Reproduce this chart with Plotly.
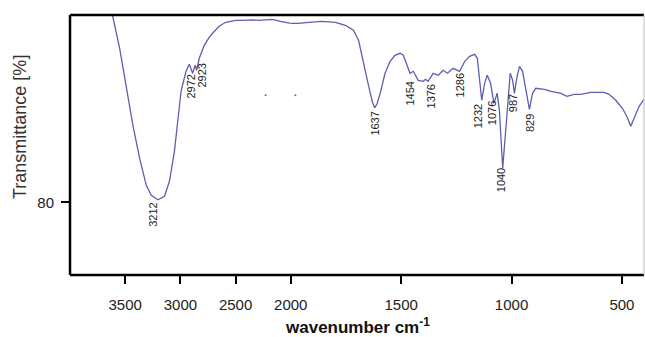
import plotly.graph_objects as go

# FTIR spectrum (wavenumber cm-1, transmittance %)
wavenumber = [3700, 3615, 3550, 3490, 3430, 3369, 3309, 3264, 3204, 3144, 3099, 3054, 3024,
              2994, 2949, 2919, 2889, 2865, 2853, 2829, 2784, 2739, 2700, 2649, 2589, 2500,
              2439, 2350, 2288, 2168, 2093, 2018, 2000, 1964, 1919, 1859, 1798, 1753, 1716,
              1693, 1678, 1663, 1648, 1630, 1620, 1608, 1595, 1573, 1550, 1528, 1505, 1490,
              1476, 1460, 1445, 1423, 1400, 1390, 1378, 1355, 1332, 1310, 1290, 1265, 1235,
              1212, 1190, 1167, 1155, 1146, 1135, 1122, 1110, 1095, 1080, 1065, 1055, 1040,
              1025, 1014, 1006, 995, 987, 975, 964, 950, 939, 919, 905, 890, 852, 821, 776,
              749, 716, 686, 641, 581, 558, 528, 498, 478, 460, 442, 422, 400]
transmittance = [102.5, 98.7, 95.4, 91.4, 87.7, 84.4, 81.7, 80.7, 80.25, 80.6, 82.1, 85.1, 88.1,
                 91.1, 93.1, 93.8, 92.9, 93.7, 93.2, 94.4, 95.7, 96.5, 97.0, 97.6, 98.0, 98.2,
                 98.2, 98.25, 98.2, 98.3, 98.1, 97.9, 97.9, 97.9, 98.0, 98.1, 98.0, 97.7, 97.2,
                 96.2, 94.7, 93.1, 91.7, 90.0, 89.45, 89.9, 90.9, 92.9, 94.1, 94.7, 94.9, 94.7,
                 93.9, 92.9, 93.1, 92.2, 92.1, 92.3, 92.1, 92.9, 92.7, 93.2, 92.9, 93.4, 93.1,
                 94.1, 94.6, 94.8, 94.4, 92.6, 90.2, 91.9, 92.7, 91.9, 89.9, 90.9, 89.2, 83.4,
                 87.6, 91.6, 92.9, 92.2, 90.9, 92.6, 93.6, 93.1, 91.6, 89.3, 90.9, 91.4, 91.3,
                 91.1, 90.9, 90.6, 90.8, 90.8, 91.0, 91.0, 90.8, 90.2, 89.4, 88.6, 87.6, 88.6,
                 89.6, 90.3]

# stray dots in the picture
dot_wn = [2228, 1979]
dot_t = [90.7, 90.7]

# peak labels and where they sit in the picture
peak_labels = ["3212", "2972", "2923", "1637", "1454", "1376", "1286", "1232", "1076", "1040", "987", "829"]
peak_label_wn = [3243, 2901, 2802, 1617, 1459, 1364, 1233, 1152, 1089, 1048, 994, 913]
peak_label_t = [80.0, 92.9, 94.0, 89.2, 92.2, 91.9, 93.0, 89.9, 90.2, 83.5, 90.9, 88.9]

x_ticks_high = [3500, 3000, 2500]
x_ticks_low = [2000, 1500, 1000, 500]
y_ticks = [80]

SPLIT = 2000
LINE = "#5c5fae"
FONT = "Arial, Liberation Sans, sans-serif"

hi = [(w, t) for w, t in zip(wavenumber, transmittance) if w >= SPLIT]
lo = [(w, t) for w, t in zip(wavenumber, transmittance) if w <= SPLIT]

fig = go.Figure()
fig.add_trace(go.Scatter(x=[p[0] for p in hi], y=[p[1] for p in hi], mode="lines",
                         line=dict(color=LINE, width=1.3), xaxis="x", yaxis="y",
                         showlegend=False))
fig.add_trace(go.Scatter(x=[p[0] for p in lo], y=[p[1] for p in lo], mode="lines",
                         line=dict(color=LINE, width=1.3), xaxis="x2", yaxis="y",
                         showlegend=False))
fig.add_trace(go.Scatter(x=[w for w in dot_wn if w >= SPLIT], y=[t for w, t in zip(dot_wn, dot_t) if w >= SPLIT],
                         mode="markers", marker=dict(color=LINE, size=2), xaxis="x", yaxis="y",
                         showlegend=False))
fig.add_trace(go.Scatter(x=[w for w in dot_wn if w < SPLIT], y=[t for w, t in zip(dot_wn, dot_t) if w < SPLIT],
                         mode="markers", marker=dict(color=LINE, size=2), xaxis="x2", yaxis="y",
                         showlegend=False))

dom_split = (4000 - SPLIT) / ((4000 - SPLIT) + 2 * (SPLIT - 400))

tick_common = dict(ticks="outside", ticklen=8, tickwidth=2, tickcolor="black",
                   showgrid=False, zeroline=False, showline=False,
                   tickfont=dict(family=FONT, size=15, color="#222"))

fig.update_layout(
    width=645, height=337,
    margin=dict(l=70, r=1, t=15, b=62),
    paper_bgcolor="white", plot_bgcolor="white",
    xaxis=dict(domain=[0, dom_split], range=[4000, SPLIT], tickvals=x_ticks_high,
               anchor="y", ticklabelstandoff=8, **tick_common),
    xaxis2=dict(domain=[dom_split, 1], range=[SPLIT, 400], tickvals=x_ticks_low,
                anchor="y", ticklabelstandoff=8, **tick_common),
    yaxis=dict(range=[72.73, 98.73], tickvals=y_ticks, ticklabelstandoff=4, **tick_common),
)

for lab, w, t in zip(peak_labels, peak_label_wn, peak_label_t):
    xref = "x" if w >= SPLIT else "x2"
    fig.add_annotation(x=w, y=t, xref=xref, yref="y", text=lab, textangle=-90,
                       showarrow=False, xanchor="center", yanchor="top",
                       font=dict(family=FONT, size=11, color="#222"),
                       borderpad=0)

fig.add_annotation(x=(357 - 70) / 574, y=-(326 - 275) / 260, xref="paper", yref="paper",
                   text="<b>wavenumber cm<sup>-1</sup></b>", showarrow=False,
                   xanchor="center", yanchor="middle",
                   font=dict(family=FONT, size=17, color="#111"))
fig.add_annotation(x=(20 - 70) / 574, y=(275 - 127) / 260, xref="paper", yref="paper",
                   text="Transmittance [%]", textangle=-90, showarrow=False,
                   xanchor="center", yanchor="middle",
                   font=dict(family=FONT, size=18, color="#333"))

# frame
for x0, y0, x1, y1, c, w in [(0, 0, 0, 1, "black", 2.5), (0, 1, 1, 1, "black", 2.5),
                            (0, 0, 1, 0, "black", 2.5), (1, 0, 1, 1, "#bbbbbb", 1)]:
    fig.add_shape(type="line", xref="paper", yref="paper", x0=x0, y0=y0, x1=x1, y1=y1,
                  line=dict(color=c, width=w))

fig.write_html("out.html", config={"displayModeBar": False},
               post_script="document.body.style.margin='0';document.body.style.overflow='hidden';")
